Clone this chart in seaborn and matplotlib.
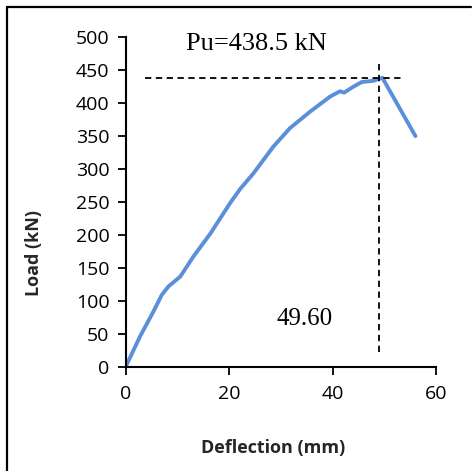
import matplotlib
matplotlib.use("Agg")
import matplotlib.pyplot as plt
import seaborn as sns
import pandas as pd
from matplotlib.lines import Line2D

deflection = [0, 0.1, 2.7, 5.3, 6.9, 8.2, 10.5, 13.0, 16.3, 20.1, 22.1, 24.6, 28.5, 31.7, 35.6,
              39.5, 41.4, 42.2, 44.0, 45.6, 47.9, 49.6, 56.0]
load = [0, 3, 46, 84, 109, 122, 137, 167, 202, 248, 270, 293, 334, 362, 387,
        410, 418, 416, 425, 432, 434, 438.5, 350]
pu_value = 438.5
pu_deflection = 49.6

df = pd.DataFrame({"Deflection (mm)": deflection, "Load (kN)": load})

sns.set_theme(style="ticks")
plt.rcParams['font.family'] = ['Open Sans', 'DejaVu Sans']

fig = plt.figure(figsize=(4.72, 4.71), dpi=100, facecolor="white", edgecolor="white", linewidth=0)
ax = fig.add_axes([0.267, 0.221, 0.657, 0.700])

sns.lineplot(data=df, x="Deflection (mm)", y="Load (kN)", ax=ax, sort=False,
             color="#5B8FD9", linewidth=2.8, estimator=None)

ax.plot([3.7, 54], [pu_value, pu_value], linestyle=(0, (3.5, 2.5)), color="black", linewidth=1.3)
ax.plot([49.0, 49.0], [23, 460], linestyle=(0, (3.5, 2.5)), color="black", linewidth=1.3)

ax.set_xlim(0, 60)
ax.set_ylim(0, 500)
ax.set_xticks([0, 20, 40, 60])
ax.set_yticks(range(0, 501, 50))
ax.tick_params(axis="both", labelsize=14, length=6, width=1.3, color="black", labelcolor="black", direction="out")
ax.tick_params(axis="x", pad=7)
ax.tick_params(axis="y", pad=6)
for s in ["top", "right"]:
    ax.spines[s].set_visible(False)
for s in ["left", "bottom"]:
    ax.spines[s].set_color("black")
    ax.spines[s].set_linewidth(1.5)

ax.set_xlabel("Deflection (mm)", fontsize=13, fontweight="bold")
ax.set_ylabel("Load (kN)", fontsize=13, fontweight="bold")
ax.xaxis.set_label_coords(0.473, -0.218)
ax.yaxis.set_label_coords(-0.268, 0.344)

ax.text(25.3, 480, f"Pu={pu_value} kN", fontsize=19, family=["Liberation Serif"], ha="center", va="baseline", color="black")
ax.text(34.6, 63.6, f"{pu_deflection:.2f}", fontsize=18, family=["Liberation Serif"], ha="center", va="baseline", color="black")

# frame: left and top edges only (right and bottom are cropped in the original)
fig.lines.append(Line2D([0.015, 0.015], [0.0, 0.985], transform=fig.transFigure, color="black", linewidth=1.6))
fig.lines.append(Line2D([0.015, 0.998], [0.985, 0.985], transform=fig.transFigure, color="black", linewidth=1.6))

fig.savefig("out.png", dpi=100, facecolor="white", edgecolor="white")
